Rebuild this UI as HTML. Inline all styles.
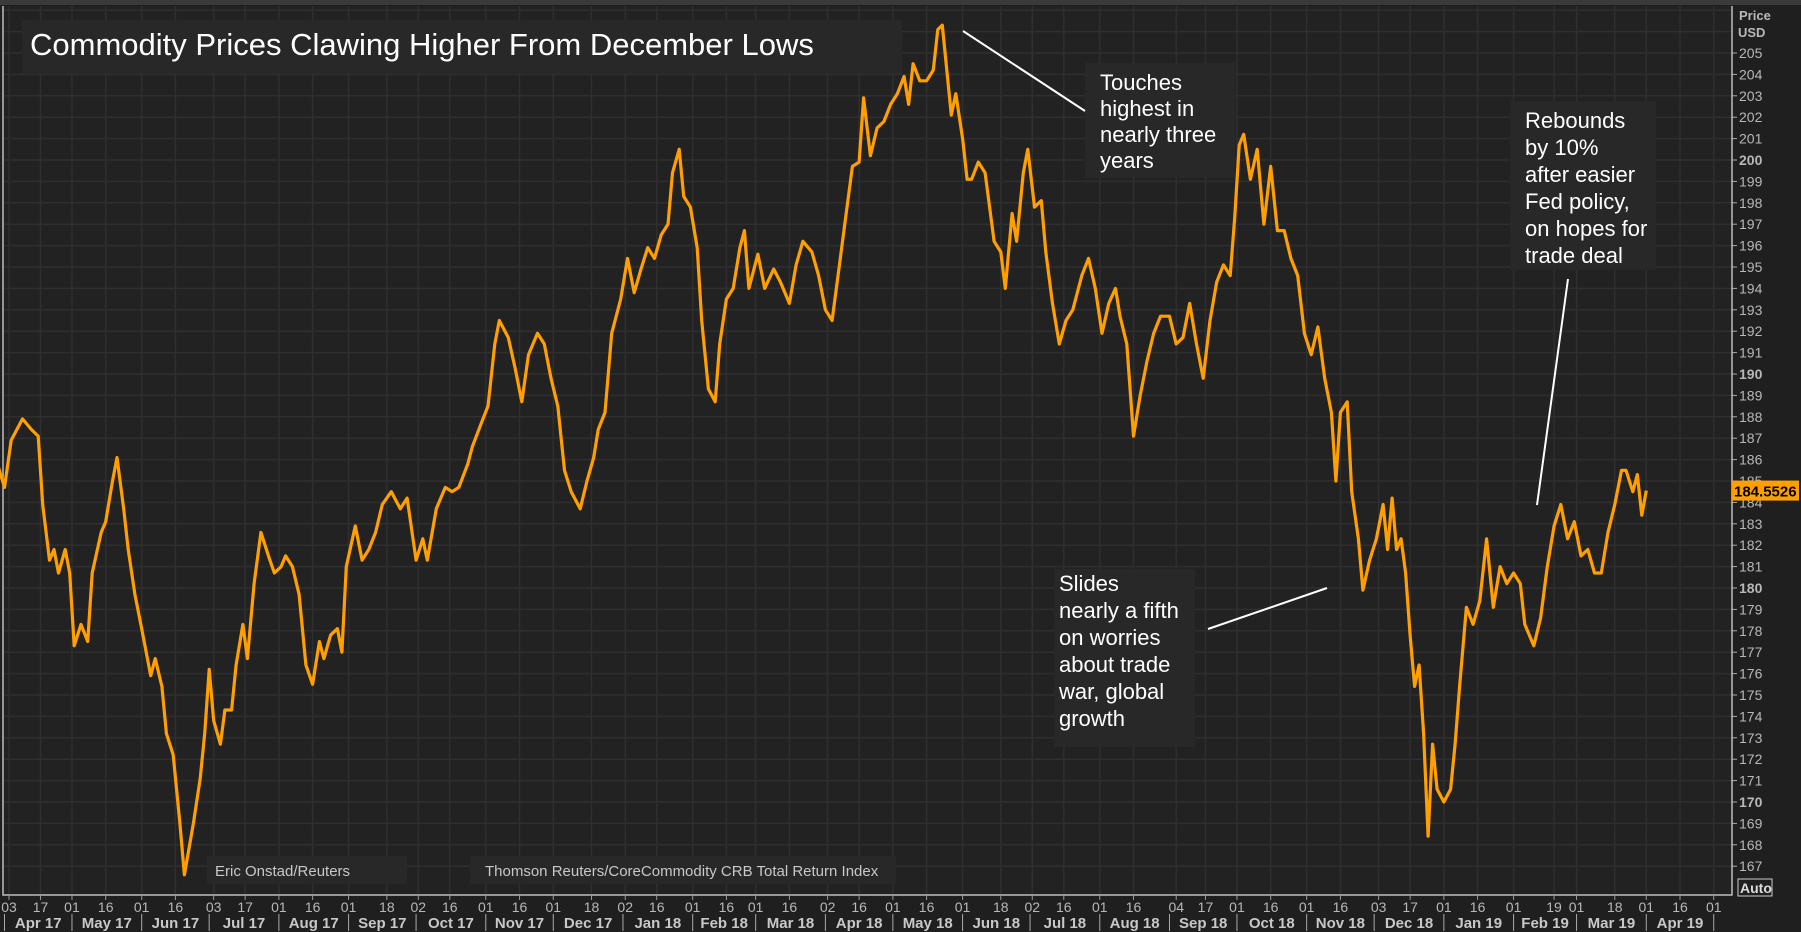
<!DOCTYPE html>
<html><head><meta charset="utf-8">
<style>
html,body{margin:0;padding:0;background:#1e1e1e;}
svg{display:block;font-family:"Liberation Sans",sans-serif;}
</style></head>
<body>
<svg id="chart" width="1801" height="932" viewBox="0 0 1801 932">
<rect x="0" y="0" width="1801" height="932" fill="#1f1f1f"/>
<rect x="0" y="0" width="1801" height="5" fill="#3a3a3a"/>
<rect x="3" y="6" width="1729" height="889" fill="#222222"/>
<g id="grid"></g>
<g id="axes"></g>
<g id="series"></g>
<g id="annot"></g>
</svg>
<script>
// ---- data ----
const days = [-4,0,3,8,12,15,17,20,22,24,27,29,31,34,37,39,43,45,48,50,53,55,58,61,65,67,70,72,75,78,80,84,87,89,91,93,96,98,101,103,106,108,111,114,118,120,123,125,128,131,134,137,140,142,145,148,150,152,156,159,162,165,168,170,172,176,179,183,186,188,192,196,199,202,206,208,212,215,218,220,224,227,230,233,237,240,243,246,249,252,256,259,262,264,267,270,274,277,280,283,286,289,292,295,297,300,302,305,308,310,313,316,318,321,324,327,329,331,335,338,342,345,349,352,355,359,362,365,368,371,374,377,380,382,385,388,391,394,397,400,402,404,407,410,413,415,417,419,421,423,426,428,430,433,436,440,443,445,448,450,453,455,458,461,463,466,469,472,475,479,482,485,488,491,494,496,499,502,505,508,511,514,518,521,524,527,530,533,536,539,542,545,547,549,551,554,557,560,563,566,569,572,575,578,581,584,587,590,592,594,597,599,602,604,607,610,613,615,617,619,621,623,625,627,629,631,633,635,637,640,643,645,647,650,653,656,659,662,665,668,671,674,676,680,683,686,689,692,695,698,701,704,707,710,713,716,719,721,724,726,728,730];
const prices = [186.1,184.7,186.9,187.9,187.4,187.1,183.9,181.3,181.8,180.7,181.8,180.7,177.3,178.3,177.5,180.7,182.6,183.1,185.0,186.1,183.7,181.8,179.7,178.1,175.9,176.7,175.4,173.2,172.2,169.0,166.6,169.0,171.1,173.2,176.2,173.8,172.7,174.3,174.3,176.4,178.3,176.7,180.2,182.6,181.3,180.7,181.0,181.5,181.0,179.7,176.4,175.5,177.5,176.7,177.8,178.1,177.0,181.0,182.9,181.3,181.8,182.6,183.9,184.2,184.5,183.7,184.2,181.3,182.3,181.3,183.7,184.7,184.5,184.7,185.8,186.6,187.7,188.5,191.4,192.5,191.7,190.3,188.7,190.9,191.9,191.4,189.8,188.5,185.5,184.5,183.7,185.0,186.1,187.4,188.2,191.9,193.5,195.4,193.8,194.9,195.9,195.4,196.5,197.0,199.4,200.5,198.3,197.8,195.9,192.5,189.3,188.7,191.4,193.5,194.0,195.9,196.7,194.0,195.6,194.0,194.9,194.3,193.3,195.1,196.2,195.7,194.6,193.0,192.5,194.9,197.3,199.7,199.9,202.9,200.2,201.5,201.8,202.6,203.1,203.9,202.6,204.5,203.7,203.7,204.2,206.1,206.3,204.2,202.1,203.1,201.0,199.1,199.1,199.9,199.4,196.2,195.7,194.0,197.5,196.2,199.4,200.5,197.8,198.1,195.7,193.3,191.4,192.5,193.0,194.6,195.4,194.0,191.9,193.3,194.0,192.7,191.4,187.1,189.0,190.6,191.9,192.7,192.7,191.4,191.7,193.3,191.4,189.8,192.5,194.3,195.1,194.6,197.3,200.7,201.2,199.1,200.5,197.0,199.7,196.7,196.7,195.4,194.6,191.9,190.9,192.2,189.8,188.2,185.0,188.2,188.7,184.5,182.3,179.9,181.3,182.3,183.9,181.8,184.2,181.8,182.3,180.7,177.8,175.4,176.4,173.2,168.4,172.7,170.6,170.0,170.6,172.7,175.4,179.1,178.3,179.4,182.3,179.1,181.0,180.2,180.7,180.2,178.3,177.3,178.6,181.0,182.9,183.9,182.3,183.1,181.5,181.8,180.7,180.7,182.6,183.9,185.5,185.5,184.5,185.3,183.4,184.5526];
const yTicks = [205,204,203,202,201,200,199,198,197,196,195,194,193,192,191,190,189,188,187,186,185,184,183,182,181,180,179,178,177,176,175,174,173,172,171,170,169,168,167];
const monthLabels = ["Apr 17","May 17","Jun 17","Jul 17","Aug 17","Sep 17","Oct 17","Nov 17","Dec 17","Jan 18","Feb 18","Mar 18","Apr 18","May 18","Jun 18","Jul 18","Aug 18","Sep 18","Oct 18","Nov 18","Dec 18","Jan 19","Feb 19","Mar 19","Apr 19"];
const monthStarts = [0,30,61,91,122,153,183,214,244,275,306,334,365,395,426,456,487,518,548,579,609,640,671,699,730,760];
const dayLabels = [["03","17"],["01","16"],["01","16"],["03","17"],["01","16"],["01","18"],["02","16"],["01","16"],["01","18"],["02","16"],["01","16"],["01","16"],["02","16"],["01","16"],["01","18"],["02","16"],["01","16"],["04","17"],["01","16"],["01","16"],["03","17"],["01","16"],["01","19"],["01","18"],["01","16"],["01"]];

// ---- scales ----
const X = d => 4.5 + 2.249 * d;
const Y = v => 53 + (205 - v) * 21.4;
const NS = "http://www.w3.org/2000/svg";
function mk(tag, attrs, parent){const e=document.createElementNS(NS,tag);for(const k in attrs)e.setAttribute(k,attrs[k]);parent.appendChild(e);return e;}
const grid=document.getElementById('grid'), axes=document.getElementById('axes'), series=document.getElementById('series'), annot=document.getElementById('annot');

// horizontal grid + y labels
for(const v of [...yTicks,206,207]){
  const y=Y(v); if(y<6) continue;
  const l=mk('line',{x1:3,x2:1732,y1:y,y2:y,stroke:'#2f2f2f','stroke-width':1.5},grid);
  
  
}
for(const v of yTicks){
  const y=Y(v);
  const t=mk('line',{x1:1732,x2:1737,y1:y,y2:y,stroke:'#aaa'},axes);
  
  
  const tx=mk('text',{x:1739,y:y+5,fill:'#b8b8b8','font-size':14,'font-weight':(v%10===0)?'bold':'normal'},axes);
  tx.textContent=v;
  
  
}
// vertical grid + day labels
dayLabels.forEach((arr,i)=>{
  arr.forEach(lb=>{
    const d=monthStarts[i]+parseInt(lb,10)-1; const x=X(d);
    if(x>1720) {}
    const g=mk('line',{x1:x,x2:x,y1:6,y2:895,stroke:'#2f2f2f','stroke-width':1.5},grid);
    
    
    const tk=mk('line',{x1:x,x2:x,y1:896,y2:900,stroke:'#999'},axes);
    
    
    const t=mk('text',{x:x,y:912,fill:'#b8b8b8','font-size':14,'text-anchor':'middle'},axes);
    t.textContent=lb;
    
    
  });
});
monthLabels.forEach((m,i)=>{
  const x0=X(monthStarts[i]), x1=X(monthStarts[i+1]);
  const s=mk('line',{x1:x0,x2:x0,y1:914,y2:931,stroke:'#aaa'},axes);
  
  
  const t=mk('text',{x:(x0+x1)/2,y:928,fill:'#c8c8c8','font-size':15,'font-weight':'bold','text-anchor':'middle'},axes);
  t.textContent=m;
  
  
});
{const s=mk('line',{x1:X(760),x2:X(760),y1:914,y2:931,stroke:'#aaa'},axes);

}
// axis lines
const ax=mk('path',{d:'M3,6 L3,895 L1732,895 L1732,6',fill:'none',stroke:'#bdbdbd','stroke-width':1.5},axes);


const pu=mk('text',{x:1739,y:20,fill:'#b8b8b8','font-size':13,'font-weight':'bold'},axes); pu.textContent='Price';


const pu2=mk('text',{x:1738,y:37,fill:'#b8b8b8','font-size':13,'font-weight':'bold'},axes); pu2.textContent='USD';


const ab=mk('rect',{x:1738,y:879,width:34,height:17,fill:'#1f1f1f',stroke:'#ccc'},axes);


const at=mk('text',{x:1740,y:893,fill:'#ddd','font-size':14,'font-weight':'bold'},axes); at.textContent='Auto';



// series
let d='';
days.forEach((dd,i)=>{d+=(i?'L':'M')+X(dd).toFixed(1)+','+Y(prices[i]).toFixed(1);});
const line=mk('path',{d:d,fill:'none',stroke:'#ff9f00','stroke-width':3.2,'stroke-linejoin':'round'},series);


// last value tag
const lv=prices[prices.length-1];
const lr=mk('rect',{x:1732,y:Y(lv)-10,width:67,height:20,fill:'#ff9f00'},axes);


const lt=mk('text',{x:1734,y:Y(lv)+6,fill:'#000','font-size':15,'font-weight':'bold'},axes); lt.textContent=lv.toFixed(4);



// annotations
function box(x,y,w,h,lines,lx,ly,fs,lh,name){
  const r=mk('rect',{x:x,y:y,width:w,height:h,fill:'#282828'},annot);
  
  
  lines.forEach((s,i)=>{
    const t=mk('text',{x:lx,y:ly+i*lh,fill:'#fff','font-size':fs},annot);
    t.textContent=s;
    
    
  });
}
box(22,20,880,54,['Commodity Prices Clawing Higher From December Lows'],30,55,31,0,'chart-title');
box(1085,63,150,115,['Touches','highest in','nearly three','years'],1100,90,22,26,'peak-note');
box(1510,101,146,169,['Rebounds','by 10%','after easier','Fed policy,','on hopes for','trade deal'],1525,128,22,27,'rebound-note');
box(1054,569,141,178,['Slides','nearly a fifth','on worries','about trade','war, global','growth'],1059,591,22,27,'slide-note');
box(207,856,200,28,[],0,0,15,0,'author-credit');
box(470,856,426,28,[],0,0,15,0,'source-credit');
{const t=mk('text',{x:215,y:876,fill:'#c8c8c8','font-size':15},annot); t.textContent='Eric Onstad/Reuters';

}
{const t=mk('text',{x:485,y:876,fill:'#c8c8c8','font-size':15},annot); t.textContent='Thomson Reuters/CoreCommodity CRB Total Return Index';

}
[[963,31,1085,111,'peak-leader'],[1568,279,1537,505,'rebound-leader'],[1208,629,1327,588,'slide-leader']].forEach(a=>{
  const l=mk('line',{x1:a[0],y1:a[1],x2:a[2],y2:a[3],stroke:'#fff','stroke-width':2},annot);
  
  
});
</script>
</body></html>
